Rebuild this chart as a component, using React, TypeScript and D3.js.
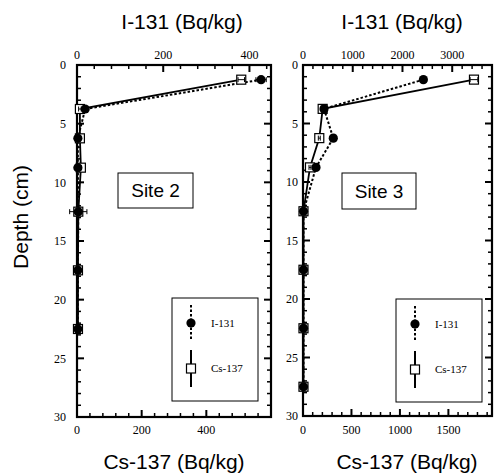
import React from 'react';
import * as d3 from 'd3';

// depth of each sample layer (cm)
const depthSite2 = [1.25, 3.75, 6.25, 8.75, 12.5, 17.5, 22.5];
const i131Site2 = [427, 19, 2, 2, 3, 2, 2];
const i131ErrSite2 = [12, 4, 1, 1, 20, 1, 1];
const cs137Site2 = [508, 9, 9, 12, 4, 3, 3];
const cs137ErrSite2 = [10, 4, 2, 2, 3, 2, 2];

const depthSite3 = [1.25, 3.75, 6.25, 8.75, 12.5, 17.5, 22.5, 27.5];
const i131Site3 = [2420, 422, 609, 261, 10, 10, 10, 10];
const i131ErrSite3 = [50, 30, 30, 20, 5, 5, 5, 5];
const cs137Site3 = [1764, 203, 168, 72, 5, 5, 5, 5];
const cs137ErrSite3 = [40, 15, 10, 10, 3, 3, 3, 3];

const yTickLabels = [0, 5, 10, 15, 20, 25, 30];

const W = 494;
const H = 475;
const serif = '"Liberation Serif", "Times New Roman", serif';
const sans = '"Liberation Sans", Arial, sans-serif';

const panels = [
  {
    name: 'Site 2', x0: 77, x1: 271, y0: 65, y1: 417,
    depth: depthSite2, iVal: i131Site2, iErr: i131ErrSite2, csVal: cs137Site2, csErr: cs137ErrSite2,
    iDomain: [0, 450], iMajor: 200, iMinor: 40,
    csDomain: [0, 600], csMajor: 200, csMinor: 40,
    yLabelX: 66, topTitleX: 182, bottomTitleX: 174,
    siteBox: [118, 173, 75, 35], legend: [172, 298, 86, 103],
  },
  {
    name: 'Site 3', x0: 303, x1: 492, y0: 65, y1: 416,
    depth: depthSite3, iVal: i131Site3, iErr: i131ErrSite3, csVal: cs137Site3, csErr: cs137ErrSite3,
    iDomain: [0, 3800], iMajor: 1000, iMinor: 200,
    csDomain: [0, 1950], csMajor: 500, csMinor: 100,
    yLabelX: 298, topTitleX: 402, bottomTitleX: 407,
    siteBox: [342, 173, 74, 36], legend: [396, 299, 86, 103],
  },
];

function ticks(domain: number[], step: number) {
  return d3.range(0, domain[1] + 1e-9, step).filter(v => v >= domain[0]);
}

function PanelView({ p }: { p: any }) {
  const y = d3.scaleLinear().domain([0, 30]).range([p.y0, p.y1]);
  const xi = d3.scaleLinear().domain(p.iDomain).range([p.x0, p.x1]);
  const xc = d3.scaleLinear().domain(p.csDomain).range([p.x0, p.x1]);

  const iLine = d3.line<number>().x((d, k) => xi(d)).y((d, k) => y(p.depth[k]));
  const cLine = d3.line<number>().x((d, k) => xc(d)).y((d, k) => y(p.depth[k]));

  const yMinor = d3.range(0, 31, 1);
  const [lx, ly, lw, lh] = p.legend;
  const [sx, sy, sw, sh] = p.siteBox;
  const lineX = lx + 19;

  return (
    <g>
      {/* y ticks on left and right edges */}
      {yMinor.map(v => {
        const major = v % 5 === 0;
        const len = major ? 7 : 4;
        return (
          <g key={'y' + v} stroke="#000" strokeWidth={major ? 2 : 1.5}>
            <line x1={p.x0} x2={p.x0 + len} y1={y(v)} y2={y(v)} />
            <line x1={p.x1} x2={p.x1 - len} y1={y(v)} y2={y(v)} />
          </g>
        );
      })}
      {yTickLabels.map(v => (
        <text key={'yl' + v} x={p.yLabelX} y={y(v)} dy="0.35em" textAnchor="end"
          fontFamily={serif} fontSize={12}>{v}</text>
      ))}
      {/* top axis: I-131 */}
      {ticks(p.iDomain, p.iMinor).map(v => {
        const major = v % p.iMajor === 0;
        return (
          <line key={'ti' + v} x1={xi(v)} x2={xi(v)} y1={p.y0} y2={p.y0 + (major ? 7 : 4)}
            stroke="#000" strokeWidth={major ? 2 : 1.5} />
        );
      })}
      {ticks(p.iDomain, p.iMajor).map(v => (
        <text key={'til' + v} x={xi(v)} y={59} textAnchor="middle" fontFamily={serif} fontSize={12}>{v}</text>
      ))}
      {/* bottom axis: Cs-137 */}
      {ticks(p.csDomain, p.csMinor).map(v => {
        const major = v % p.csMajor === 0;
        return (
          <line key={'tc' + v} x1={xc(v)} x2={xc(v)} y1={p.y1} y2={p.y1 - (major ? 7 : 4)}
            stroke="#000" strokeWidth={major ? 2 : 1.5} />
        );
      })}
      {ticks(p.csDomain, p.csMajor).filter(v => xc(v) < p.x1 - 10).map(v => (
        <text key={'tcl' + v} x={xc(v)} y={434} textAnchor="middle" fontFamily={serif} fontSize={12}>{v}</text>
      ))}
      {/* frame */}
      <rect x={p.x0} y={p.y0} width={p.x1 - p.x0} height={p.y1 - p.y0} fill="none" stroke="#000" strokeWidth={2.2} />

      {/* site label */}
      <rect x={sx} y={sy} width={sw} height={sh} fill="#fff" stroke="#000" strokeWidth={1} />
      <text x={sx + sw / 2} y={sy + sh / 2} dy="0.36em" textAnchor="middle" fontFamily={sans} fontSize={19}>{p.name}</text>

      {/* series lines */}
      <path d={cLine(p.csVal) || ''} fill="none" stroke="#000" strokeWidth={1.8} />
      <path d={iLine(p.iVal) || ''} fill="none" stroke="#000" strokeWidth={2} strokeDasharray="2.5,2" />

      {/* Cs-137 squares with error bars */}
      {p.csVal.map((v: number, k: number) => {
        const cx = xc(v), cy = y(p.depth[k]);
        const e1 = xc(v - p.csErr[k]), e2 = xc(v + p.csErr[k]);
        return (
          <g key={'cs' + k}>
            <rect x={cx - 4.5} y={cy - 4.5} width={9} height={9} fill="#fff" stroke="#000" strokeWidth={1.2} />
            <g stroke="#000" strokeWidth={1}>
              <line x1={e1} x2={e2} y1={cy} y2={cy} />
              <line x1={e1} x2={e1} y1={cy - 2.5} y2={cy + 2.5} />
              <line x1={e2} x2={e2} y1={cy - 2.5} y2={cy + 2.5} />
            </g>
          </g>
        );
      })}
      {/* I-131 circles with error bars */}
      {p.iVal.map((v: number, k: number) => {
        const cx = xi(v), cy = y(p.depth[k]);
        const e1 = xi(v - p.iErr[k]), e2 = xi(v + p.iErr[k]);
        return (
          <g key={'i' + k}>
            <g stroke="#000" strokeWidth={1}>
              <line x1={e1} x2={e2} y1={cy} y2={cy} />
              <line x1={e1} x2={e1} y1={cy - 2.5} y2={cy + 2.5} />
              <line x1={e2} x2={e2} y1={cy - 2.5} y2={cy + 2.5} />
            </g>
            <circle cx={cx} cy={cy} r={4.6} fill="#000" />
          </g>
        );
      })}

      {/* legend */}
      <rect x={lx} y={ly} width={lw} height={lh} fill="#fff" stroke="#000" strokeWidth={1} />
      <line x1={lineX} x2={lineX} y1={ly + 7} y2={ly + 42} stroke="#000" strokeWidth={2} strokeDasharray="2.5,2" />
      <circle cx={lineX} cy={ly + 25} r={4.6} fill="#000" />
      <text x={lx + 39} y={ly + 25} dy="0.35em" fontFamily={serif} fontSize={11}>I-131</text>
      <line x1={lineX} x2={lineX} y1={ly + 52} y2={ly + 89} stroke="#000" strokeWidth={2} />
      <rect x={lineX - 4.5} y={ly + 66} width={9} height={9} fill="#fff" stroke="#000" strokeWidth={1.2} />
      <text x={lx + 39} y={ly + 70} dy="0.35em" fontFamily={serif} fontSize={11}>Cs-137</text>

      {/* axis titles */}
      <text x={p.topTitleX} y={29} textAnchor="middle" fontFamily={sans} fontSize={21}>I-131 (Bq/kg)</text>
      <text x={p.bottomTitleX} y={469} textAnchor="middle" fontFamily={sans} fontSize={21}>Cs-137 (Bq/kg)</text>
    </g>
  );
}

export default function App() {
  return (
    <div style={{ position: 'absolute', left: 0, top: 0 }}>
      <svg width={W} height={H} viewBox={`0 0 ${W} ${H}`} style={{ display: 'block', background: '#fff' }}>
        {panels.map(p => <PanelView key={p.name} p={p} />)}
        <text transform="translate(28,217) rotate(-90)" textAnchor="middle" fontFamily={sans} fontSize={21}>Depth (cm)</text>
      </svg>
    </div>
  );
}
